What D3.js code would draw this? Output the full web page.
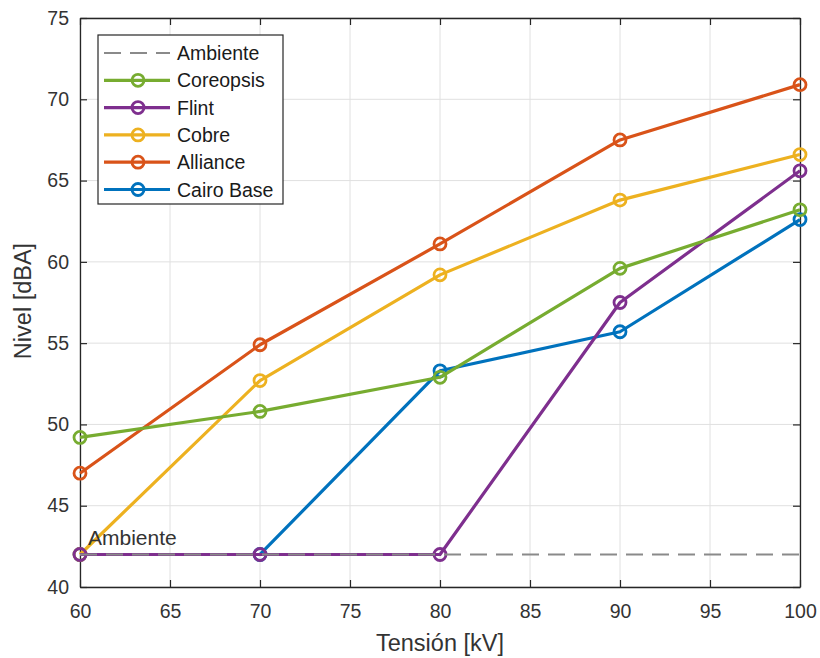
<!DOCTYPE html>
<html><head><meta charset="utf-8">
<script src="https://cdn.jsdelivr.net/npm/d3@7/dist/d3.min.js"></script>
<style>body{margin:0;background:#fff;}svg{display:block;font-family:"Liberation Sans",Arial,sans-serif;}</style>
</head><body><svg id="c" width="820" height="658"></svg>
<script>
const tension = [60, 70, 80, 90, 100];
const ambiente = [42, 42, 42, 42, 42];
const coreopsis = [49.2, 50.8, 52.9, 59.6, 63.2];
const flint = [42, 42, 42, 57.5, 65.6];
const cobre = [42, 52.7, 59.2, 63.8, 66.6];
const alliance = [47.0, 54.9, 61.1, 67.5, 70.9];
const cairoBase = [42, 42, 53.3, 55.7, 62.6];
const xTicks = [60, 65, 70, 75, 80, 85, 90, 95, 100];
const yTicks = [40, 45, 50, 55, 60, 65, 70, 75];

const series = [
  {name: "Coreopsis", values: coreopsis, color: "#77AC30"},
  {name: "Flint", values: flint, color: "#7E2F8E"},
  {name: "Cobre", values: cobre, color: "#EDB120"},
  {name: "Alliance", values: alliance, color: "#D95319"},
  {name: "Cairo Base", values: cairoBase, color: "#0072BD"}
];

const svg = d3.select("#c");
const L = 80, R = 800, T = 18, B = 587;
const x = d3.scaleLinear().domain([60, 100]).range([L, R]);
const y = d3.scaleLinear().domain([40, 75]).range([B, T]);
const axisCol = "#262626";
const fontF = "'Liberation Sans',Arial,sans-serif";

// grid
const g = svg.append("g");
g.selectAll(".gx").data(xTicks).enter().append("line")
  .attr("x1", d => x(d)).attr("x2", d => x(d)).attr("y1", T).attr("y2", B)
  .attr("stroke", "#e0e0e0").attr("stroke-width", 1);
g.selectAll(".gy").data(yTicks).enter().append("line")
  .attr("y1", d => y(d)).attr("y2", d => y(d)).attr("x1", L).attr("x2", R)
  .attr("stroke", "#e0e0e0").attr("stroke-width", 1);

// axes
const fmt = d3.format("d");
const xa = svg.append("g").attr("transform", `translate(0,${B})`)
  .call(d3.axisBottom(x).tickValues(xTicks).tickFormat(fmt).tickSizeInner(-7).tickSizeOuter(0).tickPadding(17));
const xt = svg.append("g").attr("transform", `translate(0,${T})`)
  .call(d3.axisTop(x).tickValues(xTicks).tickFormat("").tickSizeInner(-7).tickSizeOuter(0));
const ya = svg.append("g").attr("transform", `translate(${L},0)`)
  .call(d3.axisLeft(y).tickValues(yTicks).tickFormat(fmt).tickSizeInner(-7).tickSizeOuter(0).tickPadding(11));
const yr = svg.append("g").attr("transform", `translate(${R},0)`)
  .call(d3.axisRight(y).tickValues(yTicks).tickFormat("").tickSizeInner(-7).tickSizeOuter(0));
[xa, xt, ya, yr].forEach(a => {
  a.select(".domain").attr("stroke", axisCol).attr("stroke-width", 1.3);
  a.selectAll(".tick line").attr("stroke", axisCol).attr("stroke-width", 1.2);
  a.selectAll(".tick text").attr("fill", "#333").style("font-size", "19.5px").style("font-family", fontF);
});

// axis labels
svg.append("text").attr("x", (L + R) / 2).attr("y", 651).attr("text-anchor", "middle")
  .attr("fill", "#333").style("font-size", "23.5px").text("Tensión [kV]");
svg.append("text").attr("transform", `translate(31,301) rotate(-90)`).attr("text-anchor", "middle")
  .attr("fill", "#333").style("font-size", "23.5px").text("Nivel [dBA]");

// series (draw in reverse order)
const line = d3.line().x((d, i) => x(tension[i])).y(d => y(d));
const plotOrder = [series[4], series[3], series[2], series[1], series[0]];
plotOrder.forEach(s => {
  svg.append("path").attr("d", line(s.values)).attr("fill", "none")
    .attr("stroke", s.color).attr("stroke-width", 3.2).attr("stroke-linejoin", "round");
  svg.selectAll(null).data(s.values).enter().append("circle")
    .attr("cx", (d, i) => x(tension[i])).attr("cy", d => y(d)).attr("r", 6)
    .attr("fill", "none").attr("stroke", s.color).attr("stroke-width", 2.8);
});

// ambient line
svg.append("path").attr("d", line(ambiente)).attr("fill", "none")
  .attr("stroke", "#8a8a8a").attr("stroke-width", 1.8).attr("stroke-dasharray", "17,9");
svg.append("text").attr("x", x(60) + 8).attr("y", y(42) - 9)
  .attr("fill", "#333").style("font-size", "21px").text("Ambiente");

// legend
const lg = svg.append("g");
lg.append("rect").attr("x", 98).attr("y", 35).attr("width", 185).attr("height", 169)
  .attr("fill", "#fff").attr("stroke", axisCol).attr("stroke-width", 1.2);
const legendItems = [{name: "Ambiente", color: "#8a8a8a", dashed: true}].concat(series);
legendItems.forEach((s, i) => {
  const yy = 53 + i * 27.3;
  if (s.dashed) {
    lg.append("line").attr("x1", 104).attr("x2", 170).attr("y1", yy).attr("y2", yy)
      .attr("stroke", s.color).attr("stroke-width", 1.8).attr("stroke-dasharray", "17,9");
  } else {
    lg.append("line").attr("x1", 104).attr("x2", 170).attr("y1", yy).attr("y2", yy)
      .attr("stroke", s.color).attr("stroke-width", 3.2);
    lg.append("circle").attr("cx", 138).attr("cy", yy).attr("r", 6)
      .attr("fill", "none").attr("stroke", s.color).attr("stroke-width", 2.8);
  }
  lg.append("text").attr("x", 177).attr("y", yy + 7).attr("fill", "#1a1a1a")
    .style("font-size", "19.5px").text(s.name);
});
</script>
</body></html>
